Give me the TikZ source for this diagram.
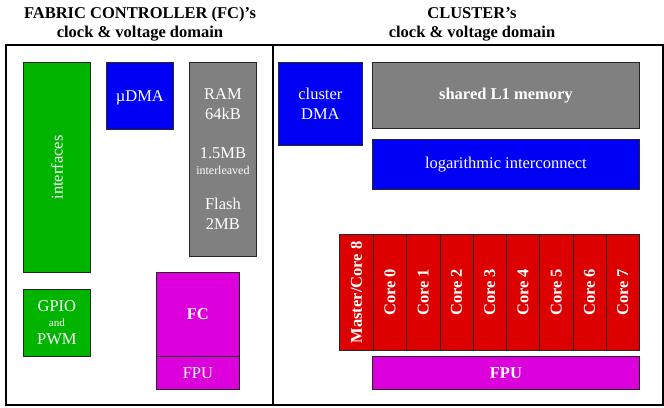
\documentclass[tikz,border=0pt]{standalone}
\usepackage{fontspec}
\setmainfont{Liberation Serif}
\usepackage{tikz}
\usetikzlibrary{arrows.meta}

\definecolor{fcgreen}{RGB}{0,180,0}
\definecolor{fcblue}{RGB}{0,0,245}
\definecolor{memgray}{RGB}{128,128,128}
\definecolor{fcmag}{RGB}{220,0,220}
\definecolor{corered}{RGB}{220,0,0}

\tikzset{
    blk/.style={draw=black!85, line width=0.8pt, text=white, inner sep=0pt,
        anchor=north west, align=center,
        font=\fontsize{16.5}{20}\selectfont},
    lbl/.style={text=white, inner sep=0pt, font=\fontsize{16.5}{20}\selectfont},
    domframe/.style={line width=2pt},
    title/.style={font=\fontsize{16.5}{19}\bfseries\selectfont, align=center}
}

\begin{document}
\begin{tikzpicture}[x=1pt, y=-1pt]
    % параметры
    \def\cw{33.25pt}    % ширина ядра
    \def\ch{116pt}      % высота ядра
    \useasboundingbox (0,0) rectangle (664,407);

    % заголовки доменов
    \node[title] (fctitle) at (140,24) {FABRIC CONTROLLER (FC)’s\\clock \& voltage domain};
    \node[title] (cltitle) at (472,24) {CLUSTER’s\\clock \& voltage domain};

    % рамки доменов
    \draw[domframe] (6,45) rectangle (273,405);
    \draw[domframe] (273,45) rectangle (663,405);

    % домен FC
    \node[blk, fill=fcgreen, minimum width=67pt, minimum height=210pt] (ifc) at (23,62) {};
    \node[lbl, rotate=90] at (ifc.center) {interfaces};
    \node[blk, fill=fcblue, minimum width=67pt, minimum height=67pt] (udma) at (106,62) {};
    \node[lbl] at ([yshift=-1.5pt]udma.center) {µDMA};
    \node[blk, fill=memgray, minimum width=67pt, minimum height=194pt] (ram) at (189,62)
        {RAM\\64kB\\[19pt]1.5MB\\[-4pt]{\fontsize{12}{12}\selectfont interleaved}\\[15pt]Flash\\2MB};
    \node[blk, fill=fcgreen, minimum width=67pt, minimum height=67pt] (gpio) at (23,289)
        {GPIO\\[-5pt]{\fontsize{11}{10}\selectfont and}\\[-2pt]PWM};
    \node[blk, fill=fcmag, minimum width=83pt, minimum height=84pt,
        font=\fontsize{16.5}{20}\bfseries\selectfont] (fc) at (156,272) {FC};
    \node[blk, fill=fcmag, minimum width=83pt, minimum height=33pt] (fcfpu) at (156,356) {FPU};

    % домен кластера
    \node[blk, fill=fcblue, minimum width=84pt, minimum height=83pt] (cdma) at (278,62) {cluster\\DMA};
    \node[blk, fill=memgray, minimum width=267pt, minimum height=66pt,
        font=\fontsize{16.5}{20}\bfseries\selectfont] (l1) at (372,62) {shared L1 memory};
    \node[blk, fill=fcblue, minimum width=267pt, minimum height=50pt] (icn) at (372,139) {logarithmic interconnect};

    % ядра
    \node[blk, fill=corered, minimum width=34pt, minimum height=\ch] (master) at (339,234) {};
    \node[lbl, rotate=90, font=\fontsize{16.5}{20}\bfseries\selectfont] at (master.center) {Master/Core 8};
    \foreach \i in {0,...,7} {
        \node[blk, fill=corered, minimum width=\cw, minimum height=\ch] (core\i) at (373+\i*33.25,234) {};
        \node[lbl, rotate=90, font=\fontsize{16.5}{20}\bfseries\selectfont] at (core\i.center) {Core \i};
    }
    \node[blk, fill=fcmag, minimum width=267pt, minimum height=33pt,
        font=\fontsize{16.5}{20}\bfseries\selectfont] (clfpu) at (372,356) {FPU};
\end{tikzpicture}
\end{document}
